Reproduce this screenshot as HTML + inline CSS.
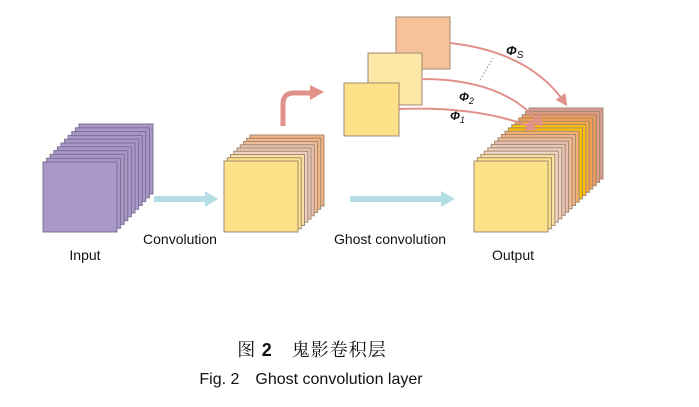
<!DOCTYPE html>
<html><head><meta charset="utf-8"><style>
body{margin:0;background:#fff;width:699px;height:402px;overflow:hidden}
svg text{font-family:"Liberation Sans",sans-serif;fill:#111}
</style></head><body>
<svg width="699" height="402" viewBox="0 0 699 402" xmlns="http://www.w3.org/2000/svg">
<defs>
<marker id="ah" markerWidth="6" markerHeight="6" refX="4" refY="3" orient="auto" markerUnits="strokeWidth"><path d="M0,0 L6,3 L0,6 z" fill="#e0928a"/></marker>
</defs>
<g fill="#a897c9" stroke="#7d7090" stroke-width="1">
<rect x="79" y="124" width="74" height="70"/><rect x="75.4" y="127.8" width="74" height="70"/><rect x="71.8" y="131.6" width="74" height="70"/><rect x="68.2" y="135.4" width="74" height="70"/><rect x="64.6" y="139.2" width="74" height="70"/><rect x="61" y="143" width="74" height="70"/><rect x="57.4" y="146.8" width="74" height="70"/><rect x="53.8" y="150.6" width="74" height="70"/><rect x="50.2" y="154.4" width="74" height="70"/><rect x="46.6" y="158.2" width="74" height="70"/><rect x="43" y="162" width="74" height="70"/>
</g>
<g stroke="#a08a70" stroke-width="1">
<rect x="250" y="135" width="74" height="71" fill="#f4b183"/><rect x="246.75" y="138.25" width="74" height="71" fill="#f4b58a"/><rect x="243.5" y="141.5" width="74" height="71" fill="#f1bc98"/><rect x="240.25" y="144.75" width="74" height="71" fill="#e9c0b0"/><rect x="237" y="148" width="74" height="71" fill="#ebc6b8"/><rect x="233.75" y="151.25" width="74" height="71" fill="#efd0c2"/><rect x="230.5" y="154.5" width="74" height="71" fill="#fbe0a0"/><rect x="227.25" y="157.75" width="74" height="71" fill="#fde28a"/><rect x="224" y="161" width="74" height="71" fill="#fde28a"/>
</g>
<g stroke="#a08a70" stroke-width="1">
<rect x="529" y="108" width="74" height="71" fill="#d99a8f"/><rect x="525.6" y="111.4" width="74" height="71" fill="#e09a80"/><rect x="522.2" y="114.7" width="74" height="71" fill="#f09a60"/><rect x="518.7" y="118" width="74" height="71" fill="#f5a050"/><rect x="515.3" y="121.3" width="74" height="71" fill="#f8a840"/><rect x="511.8" y="124.6" width="74" height="71" fill="#ffc000"/><rect x="508.4" y="127.9" width="74" height="71" fill="#ffc000"/><rect x="505" y="131.2" width="74" height="71" fill="#f5b070"/><rect x="501.5" y="134.5" width="74" height="71" fill="#f4b183"/><rect x="498.1" y="137.8" width="74" height="71" fill="#f1bc98"/><rect x="494.6" y="141.1" width="74" height="71" fill="#e9c0b0"/><rect x="491.2" y="144.4" width="74" height="71" fill="#ebc6b8"/><rect x="487.8" y="147.8" width="74" height="71" fill="#efd0c2"/><rect x="484.3" y="151.1" width="74" height="71" fill="#f3d8c8"/><rect x="480.9" y="154.4" width="74" height="71" fill="#fbe0a0"/><rect x="477.4" y="157.7" width="74" height="71" fill="#fde28a"/><rect x="474" y="161" width="74" height="71" fill="#fde28a"/>
</g>
<rect x="396" y="17" width="54" height="52" fill="#f7c19a" stroke="#a08a70"/>
<rect x="368" y="53" width="54" height="52" fill="#fde7a6" stroke="#a08a70"/>
<rect x="344" y="83" width="55" height="53" fill="#fde28a" stroke="#a08a70"/>
<g fill="#b4dde6"><rect x="154" y="196" width="52" height="6"/><path d="M205,191 L218,199 L205,207 z"/>
<rect x="350" y="196" width="92" height="6"/><path d="M441,191 L455,199 L441,207 z"/></g>
<path d="M283,126 L283,104 Q283,93 294,93 L312,93" fill="none" stroke="#e0928a" stroke-width="5"/>
<path d="M310,85 L324,92 L310,100 z" fill="#e0928a"/>
<g fill="none" stroke="#e0928a" stroke-width="2">
<path d="M450,43 Q530,52 565,103" marker-end="url(#ah)"/>
<path d="M422,79 Q505,79 540,124" marker-end="url(#ah)"/>
<path d="M399,109 Q480,106 534,128" marker-end="url(#ah)"/>
</g>
<path d="M480,80 L493,58" stroke="#888" stroke-dasharray="1.5,2" stroke-width="1"/>
<text x="506" y="55" font-size="13" font-style="italic" font-weight="bold">Φ<tspan font-size="10" dy="3" font-weight="normal">S</tspan></text>
<text x="459" y="101" font-size="12" font-style="italic" font-weight="bold">Φ<tspan font-size="9" dy="3" font-weight="normal">2</tspan></text>
<text x="450" y="120" font-size="12" font-style="italic" font-weight="bold">Φ<tspan font-size="9" dy="3" font-weight="normal">1</tspan></text>
<g font-size="14">
<text x="85" y="260" text-anchor="middle">Input</text>
<text x="180" y="244" text-anchor="middle">Convolution</text>
<text x="390" y="244" text-anchor="middle">Ghost convolution</text>
<text x="513" y="260" text-anchor="middle">Output</text>
</g>
<text x="312" y="356" font-size="18" text-anchor="middle" letter-spacing="1" style="font-family:'Liberation Serif','Noto Serif CJK SC',serif">图 <tspan font-family="Liberation Sans" font-weight="bold">2</tspan>　鬼影卷积层</text>
<text x="311" y="384" font-size="16" text-anchor="middle">Fig. 2　Ghost convolution layer</text>
</svg>
</body></html>
